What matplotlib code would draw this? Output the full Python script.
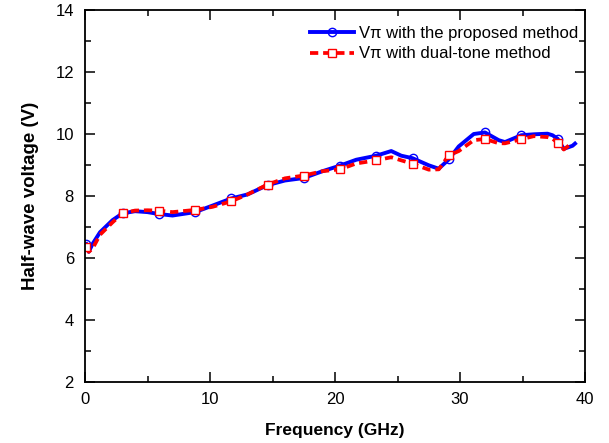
import numpy as np
import matplotlib
matplotlib.use('Agg')
import matplotlib.pyplot as plt
from matplotlib.ticker import MultipleLocator

plt.rcParams['font.family'] = ['Liberation Sans', 'DejaVu Sans']

# frequency grid (GHz)
freq = [0.1, 0.3, 0.6, 1.2, 2.2, 3.0, 4.0, 5.0, 5.9, 7.0, 8.8, 10.2, 11.7,
        13.0, 14.6, 16.0, 17.5, 19.0, 20.4, 21.7, 23.3, 24.5, 25.3, 26.2,
        27.5, 28.3, 29.1, 29.9, 31.1, 32.0, 33.1, 33.6, 34.9, 35.9, 37.0,
        37.4, 37.8, 38.3, 39.0, 39.2]

# half-wave voltage, proposed method (V)
v_proposed = [6.45, 6.20, 6.45, 6.83, 7.22, 7.44, 7.51, 7.48, 7.42, 7.37,
              7.48, 7.69, 7.92, 8.05, 8.35, 8.50, 8.58, 8.80, 8.98, 9.17,
              9.30, 9.45, 9.30, 9.22, 8.99, 8.88, 9.18, 9.60, 10.00, 10.05,
              9.80, 9.74, 9.96, 9.99, 10.01, 9.96, 9.85, 9.52, 9.62, 9.69]

# half-wave voltage, dual-tone method (V)
v_dualtone = [6.35, 6.20, 6.30, 6.75, 7.15, 7.44, 7.53, 7.54, 7.53, 7.48,
              7.55, 7.65, 7.83, 8.05, 8.37, 8.57, 8.66, 8.80, 8.86, 9.05,
              9.15, 9.25, 9.15, 9.04, 8.85, 8.86, 9.31, 9.45, 9.80, 9.84,
              9.70, 9.70, 9.83, 9.93, 9.90, 9.85, 9.72, 9.50, 9.72, np.nan]

# frequencies where markers are drawn
marker_freq = [0.1, 3.0, 5.9, 8.8, 11.7, 14.6, 17.5, 20.4, 23.3, 26.2,
               29.1, 32.0, 34.9, 37.8]

mark_idx = [i for i, f in enumerate(freq) if f in marker_freq]

fig = plt.figure(figsize=(6.09, 4.43), dpi=100)
ax = fig.add_axes([85 / 609, 1 - 382 / 443, 500 / 609, 372 / 443])

ax.plot(freq, v_proposed, color='#0000ff', lw=2.8, ls='-',
        marker='o', markevery=mark_idx, ms=6, mfc='none', mec='#0000ff',
        mew=1.0, label='V\u03c0 with the proposed method')
ax.plot(freq, v_dualtone, color='#ff0000', lw=2.7, ls=(0, (2.2, 1.3)),
        marker='s', markevery=mark_idx, ms=6, mfc='white', mec='#ff0000',
        mew=1.0, label='V\u03c0 with dual-tone method')

ax.set_xlim(0, 40)
ax.set_ylim(2, 14)
ax.xaxis.set_major_locator(MultipleLocator(10))
ax.xaxis.set_minor_locator(MultipleLocator(5))
ax.yaxis.set_major_locator(MultipleLocator(2))
ax.yaxis.set_minor_locator(MultipleLocator(1))
ax.tick_params(which='both', direction='in', top=True, right=True,
               width=1.1, labelsize=12)
ax.tick_params(axis='x', pad=7)
ax.tick_params(axis='y', pad=8)
ax.tick_params(which='major', length=7)
ax.tick_params(which='minor', length=4)
for s in ax.spines.values():
    s.set_linewidth(1.3)

ax.set_xlabel('Frequency (GHz)', fontsize=12.5, fontweight='bold',
              labelpad=12)
ax.set_ylabel('Half-wave voltage (V)', fontsize=13.5, fontweight='bold',
              labelpad=12)

ax.legend(loc='upper right', bbox_to_anchor=(0.986, 0.958), frameon=False,
          fontsize=12, borderpad=0, borderaxespad=0, handlelength=2.6,
          handletextpad=0.3, labelspacing=0.35)

fig.savefig('out.png', dpi=100)
